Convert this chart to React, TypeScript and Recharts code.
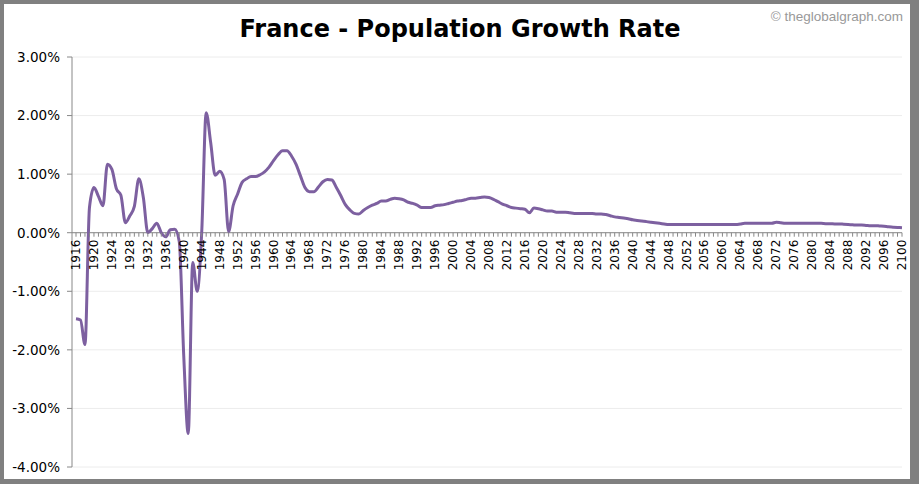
import React from "react";
import {
    LineChart,
    Line,
    XAxis,
    YAxis,
    CartesianGrid,
    ReferenceLine,
} from "recharts";

// annual population growth rate, % (1916 - 2100)
const startYear = 1916;
const growthRate = [
    -1.47, -1.49, -1.91, 0.43, 0.77, 0.62, 0.46, 1.17, 1.08, 0.75,
    0.64, 0.17, 0.29, 0.45, 0.92, 0.6, 0.0, 0.07, 0.16, 0.0,
    -0.07, 0.05, 0.06, -0.15, -2.1, -3.43, -0.51, -1.0, 0.0, 2.05,
    1.54, 0.98, 1.05, 0.91, 0.02, 0.46, 0.66, 0.86, 0.92, 0.96,
    0.96, 0.99, 1.04, 1.12, 1.23, 1.33, 1.4, 1.4, 1.31, 1.17,
    0.97, 0.77, 0.7, 0.7, 0.78, 0.87, 0.91, 0.9, 0.77, 0.63,
    0.48, 0.39, 0.33, 0.32, 0.38, 0.43, 0.47, 0.5, 0.54, 0.54,
    0.57, 0.59, 0.58, 0.56, 0.52, 0.5, 0.47, 0.43, 0.43, 0.43,
    0.46, 0.47, 0.48, 0.5, 0.52, 0.54, 0.55, 0.57, 0.59, 0.59,
    0.6, 0.61, 0.6, 0.57, 0.53, 0.49, 0.46, 0.43, 0.42, 0.41,
    0.4, 0.34, 0.42, 0.41, 0.39, 0.37, 0.37, 0.35, 0.35, 0.35,
    0.34, 0.33, 0.33, 0.33, 0.33, 0.33, 0.32, 0.32, 0.31, 0.29,
    0.27, 0.26, 0.25, 0.24, 0.22, 0.21, 0.2, 0.19, 0.18, 0.17,
    0.16, 0.15, 0.14, 0.14, 0.14, 0.14, 0.14, 0.14, 0.14, 0.14,
    0.14, 0.14, 0.14, 0.14, 0.14, 0.14, 0.14, 0.14, 0.15, 0.16,
    0.16, 0.16, 0.16, 0.16, 0.16, 0.16, 0.18, 0.17, 0.16, 0.16,
    0.16, 0.16, 0.16, 0.16, 0.16, 0.16, 0.16, 0.155, 0.155, 0.15,
    0.15, 0.145, 0.14, 0.135, 0.13, 0.13, 0.125, 0.12, 0.12, 0.115,
    0.11, 0.1, 0.095, 0.09, 0.085,
];
const years = growthRate.map((_, i) => startYear + i);
const labelYears = years.filter((y) => (y - startYear) % 4 === 0);
const yTicks = [-4, -3, -2, -1, 0, 1, 2, 3];

const data = years.map((year, i) => ({ year, rate: growthRate[i] }));

const W = 919;
const H = 484;
const MARGIN = { top: 57, right: 17, bottom: 7, left: 0 };
const X_AXIS_H = 10;
const PLOT_H = H - MARGIN.top - MARGIN.bottom - X_AXIS_H;
const Y_MIN = -4;
const Y_MAX = 3;
// the category axis sits on the 0% line
const ZERO_Y = MARGIN.top + (PLOT_H * Y_MAX) / (Y_MAX - Y_MIN);

const font = "'DejaVu Sans', Verdana, sans-serif";

function YearTick(props: any) {
    const { x, payload } = props;
    const year = Number(payload.value);
    const ly = ZERO_Y + 7;
    return (
        <g>
            <line x1={x} x2={x} y1={ZERO_Y} y2={ZERO_Y + 4} stroke="#888888" />
            {labelYears.includes(year) && (
                <text
                    x={x}
                    y={ly}
                    transform={`rotate(-90 ${x} ${ly})`}
                    textAnchor="end"
                    dominantBaseline="central"
                    fontSize={12}
                    fontFamily={font}
                    fill="#000000"
                >
                    {year}
                </text>
            )}
        </g>
    );
}

export default function App() {
    return (
        <div
            style={{
                position: "absolute",
                left: 0,
                top: 0,
                width: W,
                height: H,
                background: "#808080",
            }}
        >
            <div
                style={{
                    position: "absolute",
                    left: 4,
                    top: 4,
                    width: 906,
                    height: 475,
                    background: "#ffffff",
                }}
            />
            <svg
                width={W}
                height={H}
                style={{ position: "absolute", left: 0, top: 0 }}
            >
                <text
                    x={460}
                    y={37}
                    textAnchor="middle"
                    fontSize={24}
                    fontWeight="bold"
                    fontFamily={font}
                    fill="#000000"
                >
                    France - Population Growth Rate
                </text>
                <text
                    x={903}
                    y={21}
                    textAnchor="end"
                    fontSize={13.5}
                    fontFamily="'Liberation Sans', Arial, sans-serif"
                    fill="#999999"
                >
                    © theglobalgraph.com
                </text>
            </svg>
            <div style={{ position: "absolute", left: 0, top: 0 }}>
                <LineChart width={W} height={H} data={data} margin={MARGIN}>
                    <CartesianGrid
                        vertical={false}
                        stroke="#ececec"
                        strokeDasharray=""
                    />
                    <XAxis
                        dataKey="year"
                        interval={0}
                        height={X_AXIS_H}
                        axisLine={false}
                        tickLine={false}
                        padding={{ left: 4, right: 0 }}
                        tick={(p: any) => <YearTick {...p} />}
                    />
                    <YAxis
                        width={72}
                        domain={[Y_MIN, Y_MAX]}
                        ticks={yTicks}
                        interval={0}
                        stroke="#888888"
                        tickSize={5}
                        tickMargin={7}
                        tick={{ fill: "#000000", fontSize: 13.5, fontFamily: font }}
                        tickFormatter={(v: number) => `${v.toFixed(2)}%`}
                    />
                    <ReferenceLine y={0} stroke="#888888" />
                    <Line
                        type="monotone"
                        dataKey="rate"
                        stroke="#7d60a0"
                        strokeWidth={3}
                        dot={false}
                        isAnimationActive={false}
                    />
                </LineChart>
            </div>
        </div>
    );
}
